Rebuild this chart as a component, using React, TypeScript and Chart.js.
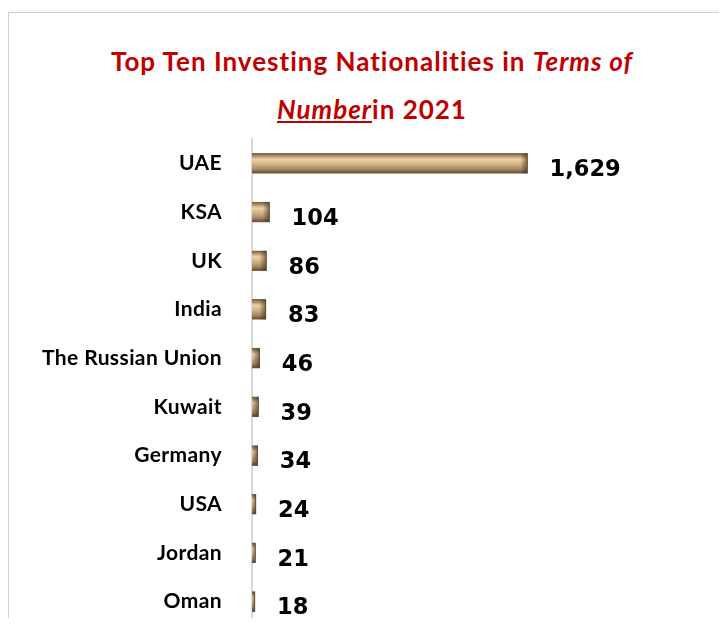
import React, { useEffect, useRef } from "react";
import { Chart, registerables } from "chart.js";

Chart.register(...registerables);

const categories = ["UAE", "KSA", "UK", "India", "The Russian Union", "Kuwait", "Germany", "USA", "Jordan", "Oman"];
const values = [1629, 104, 86, 83, 46, 39, 34, 24, 21, 18];
const xMax = 2400;

const spacing = {
  id: "spacing",
  beforeDraw(chart: any) {
    chart.ctx.letterSpacing = "0.4px";
  },
  beforeDatasetsDraw(chart: any) {
    chart.ctx.letterSpacing = "0px";
  },
};

const valueLabels = {
  id: "valueLabels",
  afterDatasetsDraw(chart: any) {
    const ctx = chart.ctx;
    const meta = chart.getDatasetMeta(0);
    ctx.save();
    meta.data.forEach((bar: any) => {
      const w = Math.min(7, bar.x - bar.base);
      const g = ctx.createLinearGradient(bar.x - w, 0, bar.x, 0);
      g.addColorStop(0, "rgba(60,45,25,0)");
      g.addColorStop(1, "rgba(60,45,25,0.65)");
      ctx.fillStyle = g;
      ctx.fillRect(bar.x - w, bar.y - 10, w, 20);
    });
    ctx.fillStyle = "#000";
    ctx.font = "bold 22.5px 'DejaVu Sans', Verdana, sans-serif";
    ctx.textAlign = "left";
    ctx.textBaseline = "middle";
    meta.data.forEach((bar: any, i: number) => {
      ctx.fillText(values[i].toLocaleString("en-US"), bar.x + 22, bar.y + 7);
    });
    ctx.restore();
  },
};

export default function App() {
  const ref = useRef<HTMLCanvasElement>(null);
  useEffect(() => {
    if (!ref.current) return;
    const chart = new Chart(ref.current, {
      type: "bar",
      data: {
        labels: categories,
        datasets: [
          {
            data: values,
            barThickness: 20,
            borderWidth: 1,
            borderColor: "rgba(90,70,45,0.8)",
            backgroundColor: (c: any) => {
              const ch = c.chart;
              const ys = ch.scales && ch.scales.y;
              if (!ys || c.dataIndex === undefined) return "#c9a77a";
              const py = ys.getPixelForValue(c.dataIndex);
              if (!Number.isFinite(py)) return "#c9a77a";
              const g = ch.ctx.createLinearGradient(0, py - 10, 0, py + 10);
              g.addColorStop(0, "#6f5a3e");
              g.addColorStop(0.15, "#b8976b");
              g.addColorStop(0.3, "#ecd3ab");
              g.addColorStop(0.55, "#d1b084");
              g.addColorStop(0.8, "#a4875f");
              g.addColorStop(1, "#5a4630");
              return g;
            },
          },
        ],
      },
      options: {
        animation: false,
        responsive: true,
        maintainAspectRatio: false,
        devicePixelRatio: 1,
        indexAxis: "y",
        layout: { padding: { top: 126, right: 63, bottom: 0, left: 0 } },
        plugins: { legend: { display: false }, tooltip: { enabled: false }, title: { display: false } },
        scales: {
          x: { display: false, min: 0, max: xMax },
          y: {
            afterFit: (s: any) => {
              s.width = 243;
              s.paddingTop = 0;
              s.paddingBottom = 0;
            },
            grid: { display: false, drawTicks: false },
            border: { display: true, color: "#d9d9d9", width: 2 },
            ticks: {
              padding: 30,
              color: "#000",
              font: { family: "Lato", weight: "bold", size: 21 },
            },
          },
        },
      },
      plugins: [spacing, valueLabels],
    } as any);
    return () => chart.destroy();
  }, []);

  return (
    <div style={{ width: 719, height: 618, marginBottom: -8, overflow: "hidden", position: "relative" }}>
      <div
        style={{
          position: "absolute",
          top: 4,
          left: 0,
          width: 712,
          height: 640,
          border: "1px solid #cfcfd4",
          boxShadow: "3px 2px 4px rgba(0,0,0,0.35)",
          background: "#fff",
        }}
      >
        <div
          style={{
            position: "absolute",
            top: 24,
            left: 0,
            width: 712,
            paddingLeft: 14,
            boxSizing: "border-box",
            textAlign: "center",
            color: "#C00000",
            fontFamily: "Lato, sans-serif",
            fontWeight: "bold",
            fontSize: 26,
            letterSpacing: "1px",
            lineHeight: "48px",
          }}
        >
          <div>
            Top Ten Investing Nationalities in <i>Terms of</i>
          </div>
          <div>
            <i style={{ textDecoration: "underline" }}>Number</i>in 2021
          </div>
        </div>
        <div style={{ position: "relative", width: 712, height: 613 }}>
          <canvas ref={ref} />
        </div>
      </div>
    </div>
  );
}
